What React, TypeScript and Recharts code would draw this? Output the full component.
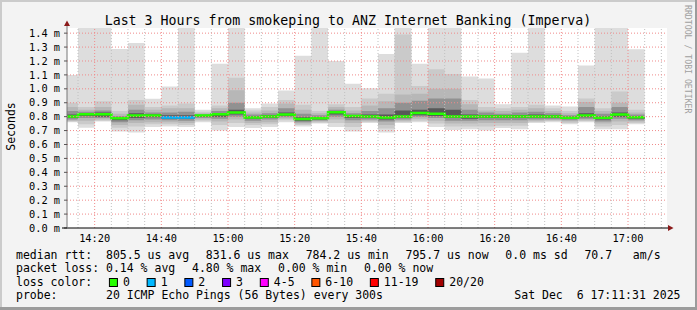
import React from 'react';
import { ComposedChart, Area, Line, XAxis, YAxis, CartesianGrid, ReferenceLine } from 'recharts';

// smokeping, 20 pings every 300s; one bin per 5 minutes (end times)
const binEnds = [
  '14:15', '14:20', '14:25', '14:30', '14:35', '14:40', '14:45', '14:50', '14:55', '15:00',
  '15:05', '15:10', '15:15', '15:20', '15:25', '15:30', '15:35', '15:40', '15:45', '15:50',
  '15:55', '16:00', '16:05', '16:10', '16:15', '16:20', '16:25', '16:30', '16:35', '16:40',
  '16:45', '16:50', '16:55', '17:00', '17:05',
];
const viewStart = '14:11:42';

// ping distribution per bin, in ms (smoke pairs, outer -> inner)
const maxV = [1.10, 1.6, 1.6, 1.287, 1.33, 0.928, 1.017, 1.6, 0.849, 1.18, 1.6, 0.86, 0.895, 0.988, 1.237, 1.6, 1.20, 1.036, 1.004, 1.251, 1.6, 1.18, 1.6, 1.6, 1.088, 1.074, 0.89, 1.26, 1.6, 0.88, 0.873, 1.167, 1.6, 1.6, 1.285];
const hi2 = [0.90, 0.87, 0.91, 0.84, 0.92, 0.87, 0.88, 0.895, 0.835, 0.88, 1.08, 0.845, 0.87, 0.92, 0.885, 0.84, 0.89, 0.87, 0.93, 0.965, 1.39, 1.02, 1.14, 1.107, 0.92, 0.87, 0.86, 0.87, 0.885, 0.86, 0.84, 0.93, 0.86, 0.98, 0.85];
const hi3 = [0.87, 0.85, 0.87, 0.82, 0.885, 0.85, 0.86, 0.86, 0.825, 0.86, 0.99, 0.83, 0.845, 0.895, 0.85, 0.825, 0.87, 0.845, 0.88, 0.91, 0.96, 0.965, 1.0, 1.0, 0.89, 0.845, 0.84, 0.85, 0.86, 0.84, 0.825, 0.905, 0.84, 0.90, 0.83];
const hi5 = [0.84, 0.835, 0.845, 0.805, 0.85, 0.83, 0.83, 0.835, 0.818, 0.84, 0.90, 0.815, 0.825, 0.86, 0.82, 0.81, 0.85, 0.825, 0.84, 0.86, 0.90, 0.915, 0.93, 0.93, 0.85, 0.83, 0.82, 0.83, 0.835, 0.825, 0.81, 0.87, 0.82, 0.87, 0.815];
const hi8 = [0.815, 0.825, 0.83, 0.797, 0.825, 0.818, 0.81, 0.81, 0.812, 0.826, 0.85, 0.802, 0.81, 0.83, 0.795, 0.797, 0.84, 0.812, 0.815, 0.815, 0.845, 0.85, 0.86, 0.85, 0.815, 0.812, 0.81, 0.812, 0.815, 0.81, 0.80, 0.825, 0.802, 0.83, 0.805];
const median = [0.801, 0.818, 0.818, 0.788, 0.808, 0.808, 0.794, 0.794, 0.808, 0.817, 0.830, 0.794, 0.801, 0.816, 0.784, 0.788, 0.832, 0.804, 0.801, 0.794, 0.801, 0.826, 0.820, 0.801, 0.801, 0.801, 0.801, 0.801, 0.801, 0.801, 0.792, 0.808, 0.792, 0.816, 0.796];
const lo8 = [0.79, 0.805, 0.80, 0.775, 0.79, 0.795, 0.785, 0.785, 0.80, 0.80, 0.815, 0.785, 0.79, 0.805, 0.77, 0.78, 0.815, 0.79, 0.79, 0.78, 0.79, 0.81, 0.805, 0.79, 0.785, 0.79, 0.79, 0.79, 0.79, 0.79, 0.785, 0.795, 0.78, 0.80, 0.785];
const lo5 = [0.78, 0.79, 0.79, 0.76, 0.775, 0.78, 0.775, 0.77, 0.79, 0.785, 0.80, 0.77, 0.78, 0.795, 0.76, 0.772, 0.80, 0.775, 0.78, 0.765, 0.78, 0.80, 0.79, 0.77, 0.77, 0.775, 0.775, 0.775, 0.78, 0.782, 0.775, 0.785, 0.765, 0.785, 0.775];
const lo3 = [0.77, 0.77, 0.78, 0.74, 0.755, 0.76, 0.76, 0.755, 0.78, 0.765, 0.78, 0.755, 0.76, 0.785, 0.75, 0.765, 0.78, 0.755, 0.77, 0.74, 0.77, 0.785, 0.77, 0.75, 0.75, 0.755, 0.755, 0.755, 0.77, 0.775, 0.765, 0.775, 0.75, 0.765, 0.765];
const lo2 = [0.765, 0.745, 0.77, 0.72, 0.73, 0.745, 0.745, 0.74, 0.77, 0.74, 0.755, 0.74, 0.745, 0.775, 0.74, 0.757, 0.755, 0.725, 0.762, 0.715, 0.762, 0.77, 0.75, 0.73, 0.73, 0.73, 0.735, 0.735, 0.762, 0.768, 0.755, 0.768, 0.73, 0.74, 0.755];
const minV = [0.76, 0.72, 0.765, 0.694, 0.686, 0.725, 0.73, 0.725, 0.76, 0.70, 0.725, 0.718, 0.725, 0.76, 0.73, 0.75, 0.725, 0.694, 0.755, 0.686, 0.755, 0.76, 0.725, 0.705, 0.71, 0.70, 0.718, 0.71, 0.755, 0.76, 0.745, 0.76, 0.71, 0.71, 0.745];
// lost pings out of 20
const lossCount = [0, 0, 0, 0, 0, 0, 1, 1, 0, 0, 0, 0, 0, 0, 0, 0, 0, 0, 0, 0, 0, 0, 0, 0, 0, 0, 0, 0, 0, 0, 0, 0, 0, 0, 0];

const lossLabels = ['0', '1', '2', '3', '4-5', '6-10', '11-19', '20/20'];
const lossColors = ['#26ff00', '#00b8ff', '#0059ff', '#7e00ff', '#ff00ff', '#ff5500', '#ff0000', '#a10000'];

const yTicks = [0, 0.1, 0.2, 0.3, 0.4, 0.5, 0.6, 0.7, 0.8, 0.9, 1.0, 1.1, 1.2, 1.3, 1.4];
const xMajor = ['14:20', '14:40', '15:00', '15:20', '15:40', '16:00', '16:20', '16:40', '17:00'];

const medianText = ['median rtt:  805.5 us avg', '831.6 us max', '784.2 us min', '795.7 us now', '0.0 ms sd', '70.7   am/s'];
const lossText = ['packet loss: 0.14 % avg', '4.80 % max', '0.00 % min', '0.00 % now'];
const probeText = 'probe:       20 ICMP Echo Pings (56 Bytes) every 300s';
const dateText = 'Sat Dec  6 17:11:31 2025';

const toMin = (s: string) => {
  const [h, m, sec] = s.split(':').map(Number);
  return (h - 14) * 60 + m + (sec || 0) / 60;
};
const lossClass = (n: number) => (n <= 3 ? n : n <= 5 ? 4 : n <= 10 ? 5 : n < 20 ? 6 : 7);
// keep runs of spaces in svg text
const keep = (s: string) => s.replace(/ /g, '\u00a0');

const t0 = toMin(viewStart);
const t1 = t0 + 180;

const rows = binEnds.flatMap((end, i) => {
  const a = i === 0 ? t0 : toMin(binEnds[i - 1]);
  const b = toMin(end);
  const v = {
    s1: [minV[i], maxV[i]],
    s2: [lo2[i], hi2[i]],
    s3: [lo3[i], hi3[i]],
    s5: [lo5[i], hi5[i]],
    s8: [lo8[i], hi8[i]],
    med: median[i],
    lc: lossClass(lossCount[i]),
  };
  return [{ t: a, ...v }, { t: b, ...v }];
});

const smoke = [
  { key: 's1', color: '#dddddd' },
  { key: 's2', color: '#cacaca' },
  { key: 's3', color: '#b7b7b7' },
  { key: 's5', color: '#919191' },
  { key: 's8', color: '#585858' },
];

const minorX: number[] = [];
for (let m = 15; m < t1; m += 5) if (m % 20 !== 0) minorX.push(m);

const mono = '"DejaVu Sans Mono", monospace';
const ADV = 6.92;
const GAP = 16.8;

function placed(pieces: string[], x0: number) {
  let x = x0;
  return pieces.map((p) => {
    const r = { x, p };
    x += p.length * ADV + GAP;
    return r;
  });
}

export default function App() {
  const line1 = placed(medianText, 16);
  const line2 = placed(lossText, 16);
  let lx = 16 + 'loss color:'.length * ADV + GAP;
  const boxes = lossLabels.map((l, i) => {
    const r = { x: lx, l, c: lossColors[i] };
    lx += 14 + l.length * ADV + GAP;
    return r;
  });

  return (
    <div style={{ position: 'absolute', left: 0, top: 0, width: 697, height: 310, background: '#f3f3f3', overflow: 'hidden' }}>
      <ComposedChart width={697} height={310} data={rows} margin={{ top: 28, right: 30, bottom: 62, left: 27 }}>
        <CartesianGrid fill="#ffffff" horizontal={false} vertical={false} />
        <XAxis
          type="number"
          dataKey="t"
          domain={[t0, t1]}
          allowDataOverflow
          ticks={xMajor.map(toMin)}
          interval={0}
          tickFormatter={(m: number) => xMajor[xMajor.map(toMin).indexOf(m)]}
          height={20}
          tickLine={false}
          tickSize={0}
          tickMargin={6.4}
          axisLine={{ stroke: '#000' }}
          tick={{ fontFamily: mono, fontSize: 10.3, fill: '#000' }}
        />
        <YAxis
          type="number"
          domain={[0, 1.437]}
          allowDataOverflow
          ticks={yTicks}
          interval={0}
          tickFormatter={(v: number) => v.toFixed(1) + ' m'}
          width={40}
          tickSize={3}
          tickMargin={4}
          tickLine={{ stroke: '#555' }}
          axisLine={{ stroke: '#777' }}
          tick={{ fontFamily: mono, fontSize: 10.3, fill: '#000' }}
        />
        {smoke.map((s) => (
          <Area
            key={s.key}
            type="linear"
            dataKey={s.key}
            stroke="none"
            fill={s.color}
            fillOpacity={1}
            dot={false}
            activeDot={false}
            isAnimationActive={false}
          />
        ))}
        {lossColors.map((c, k) => (
          <Line
            key={c}
            type="linear"
            dataKey={(d: any) => (d.lc === k ? d.med : null)}
            stroke={c}
            strokeWidth={2.5}
            dot={false}
            activeDot={false}
            isAnimationActive={false}
          />
        ))}
        {minorX.map((m) => (
          <ReferenceLine key={'x' + m} x={m} stroke="#c0c0c0" strokeDasharray="1 2" />
        ))}
        {xMajor.map((s) => (
          <ReferenceLine key={'X' + s} x={toMin(s)} stroke="#f08a8a" strokeDasharray="1 2" />
        ))}
        {yTicks.slice(1).map((v) => (
          <ReferenceLine key={'y' + v} y={v} stroke="#f08a8a" strokeDasharray="1 2" />
        ))}
      </ComposedChart>

      <svg width={697} height={310} style={{ position: 'absolute', left: 0, top: 0, pointerEvents: 'none' }}>
        <rect x={0} y={0} width={697} height={2} fill="#cbcbcb" />
        <rect x={0} y={0} width={2} height={310} fill="#cbcbcb" />
        <rect x={0} y={307} width={697} height={3} fill="#9c9c9c" />
        <rect x={695} y={0} width={2} height={310} fill="#9c9c9c" />

        <line x1={62} y1={228} x2={67} y2={228} stroke="#000" />
        <line x1={667} y1={228} x2={669} y2={228} stroke="#000" />
        <polygon points="668,225 668,231 673.5,228" fill="#8b1a1a" />
        <line x1={67} y1={28} x2={67} y2={23} stroke="#777" />
        <polygon points="64,26 70,26 67,20.5" fill="#8b1a1a" />

        <text x={348} y={24.5} textAnchor="middle" fontFamily={mono} fontSize={13.25} fill="#000">
          {keep('Last 3 Hours from smokeping to ANZ Internet Banking (Imperva)')}
        </text>
        <text transform="translate(15,126.5) rotate(-90)" textAnchor="middle" fontFamily={mono} fontSize={11.5} fill="#000">
          Seconds
        </text>
        <text transform="translate(685,5) rotate(90)" fontFamily={mono} fontSize={8.2} fill="#a0a0a0">
          {keep('RRDTOOL / TOBI OETIKER')}
        </text>

        <g fontFamily={mono} fontSize={11.5} fill="#000">
          {line1.map((p, i) => (
            <text key={'a' + i} x={p.x} y={258.5}>{keep(p.p)}</text>
          ))}
          {line2.map((p, i) => (
            <text key={'b' + i} x={p.x} y={272}>{keep(p.p)}</text>
          ))}
          <text x={16} y={285.7}>{keep('loss color:')}</text>
          {boxes.map((b) => (
            <g key={b.l}>
              <rect x={b.x + 0.5} y={278.5} width={8} height={8} fill={b.c} stroke="#000" />
              <text x={b.x + 14} y={285.7}>{b.l}</text>
            </g>
          ))}
          <text x={16} y={299.3}>{keep(probeText)}</text>
          <text x={680.5} y={299.3} textAnchor="end">{keep(dateText)}</text>
        </g>
      </svg>
    </div>
  );
}
